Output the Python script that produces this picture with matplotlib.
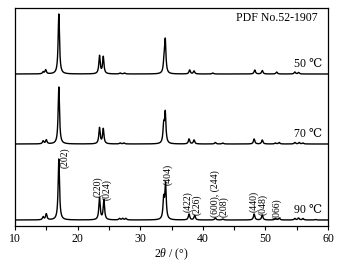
import numpy as np
import matplotlib
matplotlib.use("Agg")
import matplotlib.pyplot as plt

plt.rcParams['font.family'] = ['Liberation Serif', 'DejaVu Serif']
plt.rcParams['mathtext.fontset'] = 'custom'
plt.rcParams['mathtext.rm'] = 'Liberation Serif'
plt.rcParams['mathtext.it'] = 'Liberation Serif:italic'

# peak positions (2theta, deg) and heights
pos_90 = [14.5, 15.0, 17.0, 23.5, 24.2, 26.7, 27.2, 27.7, 33.75, 34.05, 37.8, 38.7, 42.0, 43.2, 48.2, 49.5, 51.6, 52.2, 54.7, 55.3, 56.0, 58.0]
h_90 = [3, 6, 61, 22, 20, 1.5, 1.5, 1.5, 20, 35, 6, 4.5, 2, 1, 6, 5, 1.5, 2, 1.5, 2, 1.5, 0.5]

pos_70 = [14.5, 15.0, 17.0, 23.5, 24.1, 26.8, 27.4, 33.75, 34.0, 37.8, 38.6, 42.0, 43.2, 48.2, 49.5, 51.6, 52.2, 54.7, 55.4, 56.0]
h_70 = [3, 4, 57, 16, 15, 1, 1, 17, 30, 5, 4, 1.5, 1, 5, 4, 1, 1.5, 1.5, 1.5, 1]

pos_50 = [14.5, 14.9, 17.0, 23.5, 24.1, 26.8, 27.5, 33.8, 34.0, 37.9, 38.6, 41.6, 48.3, 49.5, 51.8, 54.7, 55.3]
h_50 = [2, 4, 60, 18, 17, 1, 1, 10, 33, 4, 3, 1, 4, 3.5, 2, 2, 1.5]

offsets = [6, 82, 152]
temp_labels = ['90 ℃', '70 ℃', '50 ℃']

hkl_labels = ['(202)', '(220)', '(024)', '(404)', '(422)', '(226)', '(600), (244)', '(208)', '(440)', '(048)', '(066)']
hkl_x = [18.0, 23.3, 24.7, 34.4, 37.6, 39.1, 42.0, 43.4, 48.2, 49.6, 51.8]
hkl_y = [58, 29, 26, 41, 14, 11, 9, 9, 14, 11, 7]

tt = np.linspace(10, 60, 5001)

def pattern(pos, h, w=0.26):
    y = np.zeros_like(tt)
    for p, a in zip(pos, h):
        g = (w / 2) ** 2
        y += a * g / ((tt - p) ** 2 + g)
    return y

fig = plt.figure(figsize=(3.43, 2.62), dpi=100)
ax = fig.add_axes([15/343, 1 - 226/262, (328-15)/343, (226-8)/262])

for pos, h, off in zip([pos_90, pos_70, pos_50], [h_90, h_70, h_50], offsets):
    ax.plot(tt, pattern(pos, h) + off, color='black', lw=1.0)

for lab, off in zip(temp_labels, offsets):
    ax.text(59.0, off + 10, lab, ha='right', va='center', fontsize=8.5,
            family=['Liberation Serif', 'DejaVu Serif'])

ax.text(58.4, 208, 'PDF No.52-1907', ha='right', va='center', fontsize=8.5)

for lab, x, y in zip(hkl_labels, hkl_x, hkl_y):
    ax.text(x, y, lab, rotation=90, ha='center', va='bottom', fontsize=7)

ax.set_xlim(10, 60)
ax.set_ylim(0, 218)
ax.set_yticks([])
ax.set_xticks([10, 20, 30, 40, 50, 60])
ax.set_xticks([15, 25, 35, 45, 55], minor=True)
ax.tick_params(axis='x', which='both', direction='out', length=3, width=0.8, labelsize=8.5, pad=2)
for s in ax.spines.values():
    s.set_linewidth(0.9)
ax.set_xlabel(r'2$\it{\theta}$ / (°)', fontsize=8.5, labelpad=1)

fig.savefig('out.png', dpi=100)
